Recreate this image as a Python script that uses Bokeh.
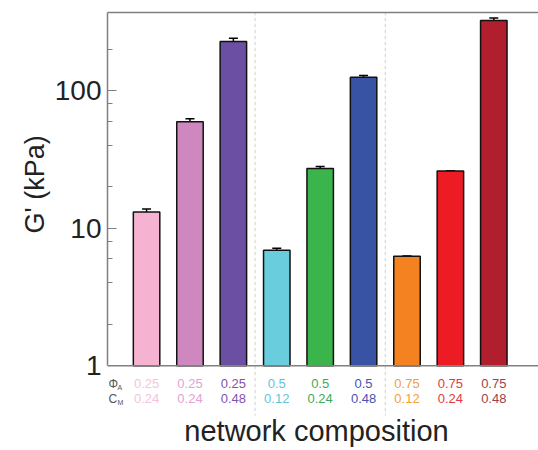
from bokeh.plotting import figure
from bokeh.models import (ColumnDataSource, Range1d, FixedTicker, LinearAxis, Whisker,
                          TeeHead, LabelSet, Label, BoxAnnotation, Span, Title,
                          PrintfTickFormatter)
from bokeh.core.properties import value
from bokeh.embed import file_html
from bokeh.resources import INLINE

# ---- data ----
phi_a = ["0.25", "0.25", "0.25", "0.5", "0.5", "0.5", "0.75", "0.75", "0.75"]
c_m = ["0.24", "0.24", "0.48", "0.12", "0.24", "0.48", "0.12", "0.24", "0.48"]
g_prime = [13.1, 59.5, 228, 6.9, 27.1, 125, 6.25, 26.0, 323]
g_err = [0.7, 3.0, 12, 0.25, 1.0, 4.0, 0.0, 0.0, 14]
bar_colors = ["#F6B2D1", "#CF87C0", "#6B4FA2", "#6ACDDD", "#3AB44B", "#3953A4",
              "#F58220", "#ED1C24", "#B11F2E"]
text_colors = ["#F5C3DD", "#E2A3D2", "#8552AE", "#5DC6DD", "#3DAA5A", "#4A52B4",
               "#F0A040", "#E03A44", "#A23F47"]
group_breaks = [2.5, 5.5]
y_ticks = [1, 10, 100]
y_minor = [2, 4, 6, 8, 20, 40, 60, 80, 200]
y_min, y_max = 1, 370

xs = list(range(len(g_prime)))
src = ColumnDataSource(dict(
    x=xs, top=g_prime, bottom=[y_min] * len(xs),
    upper=[v + e for v, e in zip(g_prime, g_err)],
    lower=[v - e for v, e in zip(g_prime, g_err)],
    color=bar_colors, tcolor=text_colors, phi=phi_a, cm=c_m,
))

FONT = "Liberation Sans"
AXIS_COLOR = "#808080"
TXT = "#222222"

# frame extends below y=1 to hold the composition labels
p = figure(width=538, height=450, y_axis_type="log",
           x_range=Range1d(-0.9, 9.03), y_range=Range1d(0.2415, y_max),
           output_backend="svg", toolbar_location=None,
           min_border_left=107, min_border_right=0, min_border_top=12,
           min_border_bottom=0)
p.outline_line_color = None
p.grid.visible = False
p.background_fill_color = "white"
p.border_fill_color = "white"

# y axis
ya = p.yaxis[0]
ya.bounds = (y_min, y_max)
ya.ticker = FixedTicker(ticks=y_ticks, minor_ticks=y_minor)
ya.formatter = PrintfTickFormatter(format="%d")
ya.major_label_text_font = FONT
ya.major_label_text_font_size = "28px"
ya.major_label_text_color = TXT
ya.major_label_standoff = 6
ya.major_tick_in = 9
ya.major_tick_out = 0
ya.minor_tick_in = 5
ya.minor_tick_out = 0
ya.axis_line_color = AXIS_COLOR
ya.axis_line_width = 1.5
ya.major_tick_line_color = AXIS_COLOR
ya.minor_tick_line_color = AXIS_COLOR
ya.major_tick_line_width = 1.2
ya.minor_tick_line_width = 1.2

# y axis title, anchored from the bottom of the panel
p.add_layout(Title(text="G' (kPa)", align="left", offset=217,
                   text_font=FONT, text_font_size="27px", text_font_style="normal",
                   text_color=TXT, standoff=4), "left")

p.xaxis.visible = False

# top frame line
top = LinearAxis(ticker=FixedTicker(ticks=[]), major_tick_out=0, major_tick_in=0,
                 minor_tick_out=0, minor_tick_in=0, axis_line_color=AXIS_COLOR,
                 axis_line_width=1.5)
p.add_layout(top, "above")

# group separators
for b in group_breaks:
    p.add_layout(BoxAnnotation(left=b, right=b, bottom=35, bottom_units="screen",
                               fill_color=None, line_color="#A0A0A0", line_width=1,
                               line_dash="3 3"))

# baseline at y = 1
p.add_layout(Span(location=y_min, dimension="width", line_color=AXIS_COLOR,
                  line_width=1.5))

# bars
p.vbar(x="x", top="top", bottom="bottom", width=0.61, source=src,
       fill_color="color", line_color="#111111", line_width=1.5)

# error bars
p.add_layout(Whisker(base="x", upper="upper", lower="lower", source=src,
                     dimension="height", line_color="black", line_width=1.5,
                     upper_head=TeeHead(size=9, line_color="black", line_width=1.5),
                     lower_head=TeeHead(size=9, line_color="black", line_width=1.5)))

# category labels
p.add_layout(LabelSet(x="x", y=67, y_units="screen", text="phi", source=src,
                      text_color="tcolor", text_align="center", text_baseline="middle",
                      text_font=value(FONT), text_font_size=value("13px")))
p.add_layout(LabelSet(x="x", y=52, y_units="screen", text="cm", source=src,
                      text_color="tcolor", text_align="center", text_baseline="middle",
                      text_font=value(FONT), text_font_size=value("13px")))

# row headers
p.add_layout(Label(x=1, y=67, x_units="screen", y_units="screen", text="Φ",
                   text_font=FONT, text_font_size="12px", text_color="#555555",
                   text_baseline="middle"))
p.add_layout(Label(x=10, y=63, x_units="screen", y_units="screen", text="A",
                   text_font=FONT, text_font_size="7px", text_color="#555555",
                   text_baseline="middle"))
p.add_layout(Label(x=1, y=52, x_units="screen", y_units="screen", text="C",
                   text_font=FONT, text_font_size="12px", text_color="#555555",
                   text_baseline="middle"))
p.add_layout(Label(x=10, y=48, x_units="screen", y_units="screen", text="M",
                   text_font=FONT, text_font_size="7px", text_color="#555555",
                   text_baseline="middle"))

# x axis title
p.add_layout(Label(x=209, y=20, x_units="screen", y_units="screen",
                   text="network composition", text_font=FONT, text_font_size="29px",
                   text_color=TXT, text_align="center",
                   text_baseline="middle"))

open("out.html", "w").write(file_html(p, INLINE))
